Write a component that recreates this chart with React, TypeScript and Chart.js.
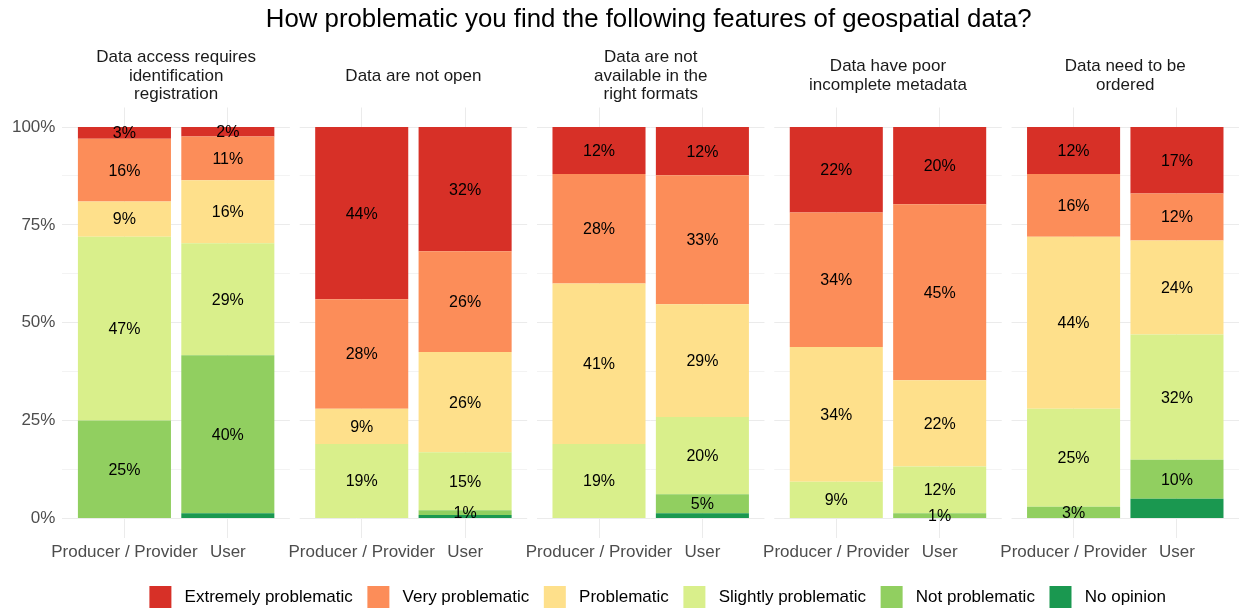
import React, { useEffect, useRef } from 'react';
import { Chart, registerables } from 'chart.js';
Chart.register(...registerables);

const TITLE = 'How problematic you find the following features of geospatial data?';
const FACETS = [
  ['Data access requires', 'identification', 'registration'],
  ['Data are not open'],
  ['Data are not', 'available in the', 'right formats'],
  ['Data have poor', 'incomplete metadata'],
  ['Data need to be', 'ordered'],
];
const GROUPS = ['Producer / Provider', 'User'];
const Y_TICKS = [0, 12.5, 25, 37.5, 50, 62.5, 75, 87.5, 100];

const LEVELS = [
  'Extremely problematic',
  'Very problematic',
  'Problematic',
  'Slightly problematic',
  'Not problematic',
  'No opinion',
];
const COLORS = ['#D73027', '#FC8D59', '#FEE08B', '#D9EF8B', '#91CF60', '#1A9850'];

// values per bar, in order: facet1 Producer, facet1 User, facet2 Producer, facet2 User, ...
const extremely = [3, 2.4, 44, 31.7, 12, 12.3, 21.8, 19.7, 12, 17];
const veryProb = [16, 11.2, 28, 25.8, 28, 33, 34.4, 45, 16, 12];
const problematic = [9, 16.1, 9, 25.6, 41, 28.8, 34.4, 22, 44, 24];
const slightly = [47, 28.6, 19, 14.8, 19, 19.7, 9.4, 12, 25, 32];
const notProb = [25, 40.4, 0, 1.2, 0, 4.9, 0, 1.3, 3, 10];
const noOpinion = [0, 1.3, 0, 0.9, 0, 1.3, 0, 0, 0, 5];

const SERIES = [extremely, veryProb, problematic, slightly, notProb, noOpinion];

// layout constants (category units)
const FACET_STEP = 2.295;
const EXPAND = 0.6;
const LEGEND_SHIFT = 7;

const FONT = "'Liberation Sans', Arial, Helvetica, sans-serif";

function xOf(i: number) {
  const f = Math.floor(i / 2);
  const g = i % 2;
  return f * FACET_STEP + g;
}

const facetPlugin = {
  id: 'facetPlugin',
  afterLayout(chart: any) {
    const lg = chart.legend;
    if (lg) {
      lg.left += LEGEND_SHIFT;
      lg.right += LEGEND_SHIFT;
    }
  },
  beforeDatasetsDraw(chart: any) {
    const { ctx, chartArea, scales } = chart;
    const xs = scales.x;
    ctx.save();
    ctx.fillStyle = '#FFFFFF';
    for (let f = 0; f < FACETS.length - 1; f++) {
      const a = xs.getPixelForValue(f * FACET_STEP + 1 + EXPAND);
      const b = xs.getPixelForValue((f + 1) * FACET_STEP - EXPAND);
      ctx.fillRect(a, chartArea.top - 1, b - a, chartArea.bottom - chartArea.top + 2);
    }
    ctx.restore();
  },
  afterDatasetsDraw(chart: any) {
    const { ctx } = chart;
    ctx.save();
    ctx.font = `16px ${FONT}`;
    ctx.fillStyle = '#000000';
    ctx.textAlign = 'center';
    ctx.textBaseline = 'middle';
    chart.data.datasets.forEach((ds: any, di: number) => {
      if (ds.label === 'No opinion') return;
      const meta = chart.getDatasetMeta(di);
      meta.data.forEach((bar: any, i: number) => {
        const v = ds.data[i].y;
        if (!v || v < 0.5) return;
        const y = (bar.y + bar.base) / 2;
        ctx.fillText(`${Math.round(v)}%`, bar.x, y + 1);
      });
    });
    ctx.restore();
  },
  afterDraw(chart: any) {
    const { ctx, chartArea, scales } = chart;
    const xs = scales.x;
    ctx.save();
    ctx.textAlign = 'center';
    ctx.textBaseline = 'middle';
    ctx.fillStyle = '#000000';
    ctx.font = `25.8px ${FONT}`;
    ctx.fillText(TITLE, (chartArea.left + chartArea.right) / 2 - 2, 19.5);
    ctx.font = `17px ${FONT}`;
    ctx.fillStyle = '#1A1A1A';
    const lh = 18.7;
    FACETS.forEach((lines, f) => {
      const cx = xs.getPixelForValue(f * FACET_STEP + 0.5);
      const cy = 76;
      const y0 = cy - ((lines.length - 1) * lh) / 2;
      lines.forEach((t, k) => ctx.fillText(t, cx, y0 + k * lh));
    });
    ctx.restore();
  },
};

export default function App() {
  const ref = useRef<HTMLCanvasElement>(null);
  useEffect(() => {
    if (!ref.current) return;
    Chart.defaults.font.family = FONT;
    const order = [5, 4, 3, 2, 1, 0];
    const datasets = order.map((k) => ({
      label: LEVELS[k],
      data: SERIES[k].map((v, i) => ({ x: xOf(i), y: v })),
      backgroundColor: COLORS[k],
      borderColor: COLORS[k],
      borderWidth: 0,
      barPercentage: 0.9,
      categoryPercentage: 1.0,
    }));
    const tickPositions = SERIES[0].map((_, i) => xOf(i));
    const defaultLabels = (Chart.defaults.plugins.legend.labels as any).generateLabels;
    const chart = new Chart(ref.current, {
      type: 'bar',
      data: { datasets },
      plugins: [facetPlugin],
      options: {
        animation: false,
        responsive: false,
        maintainAspectRatio: false,
        layout: { padding: { top: 107.5, left: 0, right: 0, bottom: -8 } },
        plugins: {
          title: { display: false },
          tooltip: { enabled: false },
          legend: {
            display: true,
            position: 'bottom',
            reverse: true,
            fullSize: false,
            labels: {
              boxWidth: 22,
              boxHeight: 22,
              padding: 14.6,
              color: '#000000',
              font: { size: 17, family: FONT },
              generateLabels: (c: any) =>
                defaultLabels(c).map((it: any) => ({ ...it, text: ' ' + it.text })),
            },
          },
        },
        scales: {
          x: {
            type: 'linear',
            stacked: true,
            offset: false,
            min: -EXPAND,
            max: (FACETS.length - 1) * FACET_STEP + 1 + EXPAND,
            afterBuildTicks: (scale: any) => {
              scale.ticks = tickPositions.map((v) => ({ value: v }));
            },
            afterFit: (scale: any) => {
              scale.height = 33.4;
            },
            ticks: {
              autoSkip: false,
              maxRotation: 0,
              minRotation: 0,
              padding: 4,
              color: '#4D4D4D',
              font: { size: 17, family: FONT },
              callback: (_v: any, i: number) => GROUPS[i % 2],
            },
            grid: { color: '#EBEBEB', lineWidth: 1, drawTicks: false, offset: false },
            border: { display: false },
          },
          y: {
            type: 'linear',
            stacked: true,
            min: -5,
            max: 105,
            afterBuildTicks: (scale: any) => {
              scale.ticks = Y_TICKS.map((v) => ({ value: v }));
            },
            afterFit: (scale: any) => {
              scale.width = 62.4;
            },
            ticks: {
              padding: 7,
              color: '#4D4D4D',
              font: { size: 17, family: FONT },
              callback: (v: any) => (Number(v) % 25 === 0 ? `${v}%` : ''),
            },
            grid: {
              color: (c: any) => (c.tick && c.tick.value % 25 === 0 ? '#EBEBEB' : '#F3F3F3'),
              lineWidth: 1,
              drawTicks: false,
            },
            border: { display: false },
          },
        },
      },
    } as any);
    return () => chart.destroy();
  }, []);
  return (
    <div style={{ position: 'fixed', left: 0, top: 0, width: 1239, height: 610, background: '#fff', overflow: 'hidden' }}>
      <canvas ref={ref} width={1239} height={610} style={{ display: 'block', width: 1239, height: 610 }} />
    </div>
  );
}
